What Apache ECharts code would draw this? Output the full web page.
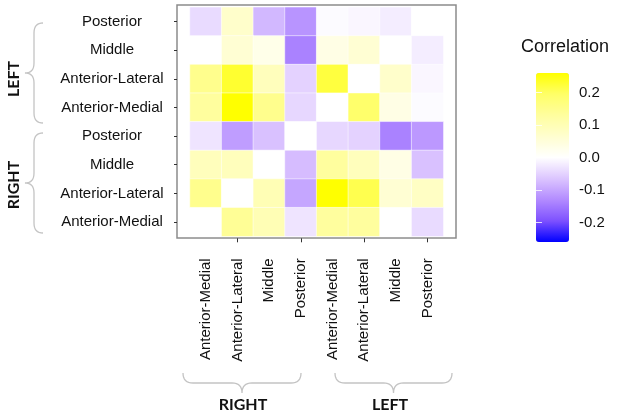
<!DOCTYPE html>
<html>
<head>
<meta charset="utf-8">
<script src="https://cdn.jsdelivr.net/npm/echarts@6/dist/echarts.min.js"></script>
<style>
  html, body { margin: 0; padding: 0; background: #fff; }
  #corr_chart { width: 621px; height: 417px; }
</style>
</head>
<body>
<div id="corr_chart"></div>
<script>
// columns (left to right) and rows (top to bottom)
var colLabels = ['Anterior-Medial', 'Anterior-Lateral', 'Middle', 'Posterior',
                 'Anterior-Medial', 'Anterior-Lateral', 'Middle', 'Posterior'];
var rowLabels = ['Posterior', 'Middle', 'Anterior-Lateral', 'Anterior-Medial',
                 'Posterior', 'Middle', 'Anterior-Lateral', 'Anterior-Medial'];

// correlation values, one array per row (LEFT rows first, then RIGHT rows)
var leftPosterior      = [-0.04,  0.07, -0.08, -0.12, -0.005, -0.01, -0.02,  0.00];
var leftMiddle         = [ 0.00,  0.06,  0.03, -0.14,  0.035,  0.06,  0.00, -0.02];
var leftAntLateral     = [ 0.15,  0.23,  0.09, -0.05,  0.22,   0.00,  0.07, -0.01];
var leftAntMedial      = [ 0.13,  0.26,  0.15, -0.045, 0.00,   0.19,  0.035,-0.005];
var rightPosterior     = [-0.03, -0.11, -0.07,  0.00, -0.045, -0.05, -0.14, -0.115];
var rightMiddle        = [ 0.09,  0.09,  0.00, -0.075, 0.13,   0.09,  0.035,-0.07];
var rightAntLateral    = [ 0.15,  0.00,  0.10, -0.10,  0.26,   0.21,  0.06,  0.08];
var rightAntMedial     = [ 0.00,  0.14,  0.10, -0.03,  0.13,   0.13,  0.00, -0.04];

var legendTicks = [-0.2, -0.1, 0.0, 0.1, 0.2];
var scaleMin = -0.26, scaleMax = 0.26;

var rows = [leftPosterior, leftMiddle, leftAntLateral, leftAntMedial,
            rightPosterior, rightMiddle, rightAntLateral, rightAntMedial];
var cells = [];
rows.forEach(function (r, yi) {
	r.forEach(function (v, xi) {
		cells.push([xi, yi, v]);
	});
});

// curly brace outlines (decoration), sampled quadratic curves
function quad(pts, p0, c, p1) {
	for (var i = 1; i <= 8; i++) {
		var t = i / 8, u = 1 - t;
		pts.push([u * u * p0[0] + 2 * u * t * c[0] + t * t * p1[0],
		          u * u * p0[1] + 2 * u * t * c[1] + t * t * p1[1]]);
	}
}
function hBrace(x1, x2, y0, y1, y2) {
	var xm = (x1 + x2) / 2, r = 10, pts = [[x1, y0]];
	quad(pts, [x1, y0], [x1, y1], [x1 + r, y1]);
	pts.push([xm - r, y1]);
	quad(pts, [xm - r, y1], [xm, y1], [xm, y2]);
	quad(pts, [xm, y2], [xm, y1], [xm + r, y1]);
	pts.push([x2 - r, y1]);
	quad(pts, [x2 - r, y1], [x2, y1], [x2, y0]);
	return pts;
}
function vBrace(y1, y2, x0, x1, x2) {
	var ym = (y1 + y2) / 2, r = 10, pts = [[x0, y1]];
	quad(pts, [x0, y1], [x1, y1], [x1, y1 + r]);
	pts.push([x1, ym - r]);
	quad(pts, [x1, ym - r], [x1, ym], [x2, ym]);
	quad(pts, [x2, ym], [x1, ym], [x1, ym + r]);
	pts.push([x1, y2 - r]);
	quad(pts, [x1, y2 - r], [x1, y2], [x0, y2]);
	return pts;
}
var braceStyle = { stroke: '#c4c4c4', lineWidth: 1.3, fill: null };
var groupFont = 'bold 16px Lato, "DejaVu Sans", sans-serif';
var textFont = '"Liberation Sans", Arial, sans-serif';

var chart = echarts.init(document.getElementById('corr_chart'));

var option = {
	animation: false,
	grid: [
		{ left: 190, top: 7.3, width: 253.3, height: 229 },
		{ left: 536, top: 73, width: 33, height: 169 }
	],
	xAxis: [
		{
			type: 'category',
			data: colLabels,
			gridIndex: 0,
			offset: 2,
			axisLine: { show: false },
			axisTick: {
				show: true,
				alignWithLabel: true,
				length: 4,
				interval: function (index) { return index % 2 === 1; },
				lineStyle: { color: '#333', width: 1 }
			},
			axisLabel: {
				interval: 0,
				rotate: 90,
				margin: 20,
				color: '#111',
				fontSize: 15,
				fontFamily: textFont
			},
			splitLine: { show: false }
		},
		{ type: 'value', gridIndex: 1, show: false }
	],
	yAxis: [
		{
			type: 'category',
			data: rowLabels,
			inverse: true,
			gridIndex: 0,
			offset: 13,
			axisLine: { show: false },
			axisTick: {
				show: true,
				alignWithLabel: true,
				length: 3,
				lineStyle: { color: '#333', width: 1 }
			},
			axisLabel: {
				interval: 0,
				align: 'center',
				margin: 65,
				color: '#111',
				fontSize: 15,
				fontFamily: textFont
			},
			splitLine: { show: false }
		},
		{
			type: 'value',
			gridIndex: 1,
			position: 'right',
			min: scaleMin,
			max: scaleMax,
			z: 10,
			axisLine: { show: false },
			axisTick: {
				show: true,
				inside: true,
				length: 6,
				customValues: legendTicks,
				lineStyle: { color: '#fff', width: 1, opacity: 0.8 }
			},
			axisLabel: {
				customValues: legendTicks,
				margin: 10,
				color: '#111',
				fontSize: 15,
				fontFamily: textFont,
				formatter: function (v) { return v.toFixed(1); }
			},
			splitLine: { show: false }
		},
		{
			type: 'value',
			gridIndex: 1,
			position: 'left',
			min: scaleMin,
			max: scaleMax,
			z: 10,
			axisLine: { show: false },
			axisTick: {
				show: true,
				inside: true,
				length: 6,
				customValues: legendTicks,
				lineStyle: { color: '#fff', width: 1, opacity: 0.8 }
			},
			axisLabel: { show: false },
			splitLine: { show: false }
		}
	],
	visualMap: {
		type: 'continuous',
		min: scaleMin,
		max: scaleMax,
		seriesIndex: 0,
		calculable: false,
		showLabel: false,
		left: 536,
		top: 73,
		padding: 0,
		itemWidth: 33,
		itemHeight: 169,
		orient: 'vertical',
		// blue - white - yellow, Lab-like blend
		inRange: {
			color: ['#0000ff', '#7e51ff', '#b28bff', '#dcc5ff', '#ffffff',
			        '#fffecf', '#fffe9e', '#ffff67', '#ffff00']
		}
	},
	graphic: [
		{
			type: 'rect',
			shape: { x: 177, y: 5, width: 279, height: 233 },
			style: { stroke: '#8c8c8c', lineWidth: 1.5, fill: null },
			silent: true
		},
		{ type: 'polyline', shape: { points: vBrace(23, 123, 43, 34, 25) }, style: braceStyle, silent: true },
		{ type: 'polyline', shape: { points: vBrace(133, 233, 43, 34, 25) }, style: braceStyle, silent: true },
		{ type: 'polyline', shape: { points: hBrace(183, 301, 373, 383, 393) }, style: braceStyle, silent: true },
		{ type: 'polyline', shape: { points: hBrace(335, 452, 373, 383, 393) }, style: braceStyle, silent: true },
		{
			type: 'text', x: 14, y: 79, rotation: Math.PI / 2,
			style: { text: 'LEFT', font: groupFont, fill: '#111', align: 'center', verticalAlign: 'middle' }
		},
		{
			type: 'text', x: 14, y: 185, rotation: Math.PI / 2,
			style: { text: 'RIGHT', font: groupFont, fill: '#111', align: 'center', verticalAlign: 'middle' }
		},
		{
			type: 'text', x: 243, y: 405,
			style: { text: 'RIGHT', font: groupFont, fill: '#111', align: 'center', verticalAlign: 'middle' }
		},
		{
			type: 'text', x: 390, y: 405,
			style: { text: 'LEFT', font: groupFont, fill: '#111', align: 'center', verticalAlign: 'middle' }
		},
		{
			type: 'text', x: 565, y: 47,
			style: { text: 'Correlation', font: '18px "Liberation Sans", Arial, sans-serif', fill: '#111', align: 'center', verticalAlign: 'middle' }
		}
	],
	series: [
		{
			name: 'Correlation',
			type: 'heatmap',
			xAxisIndex: 0,
			yAxisIndex: 0,
			data: cells,
			itemStyle: { borderColor: 'rgba(255,255,255,0.5)', borderWidth: 1 },
			emphasis: { disabled: true }
		}
	]
};
chart.setOption(option);
</script>
</body>
</html>
